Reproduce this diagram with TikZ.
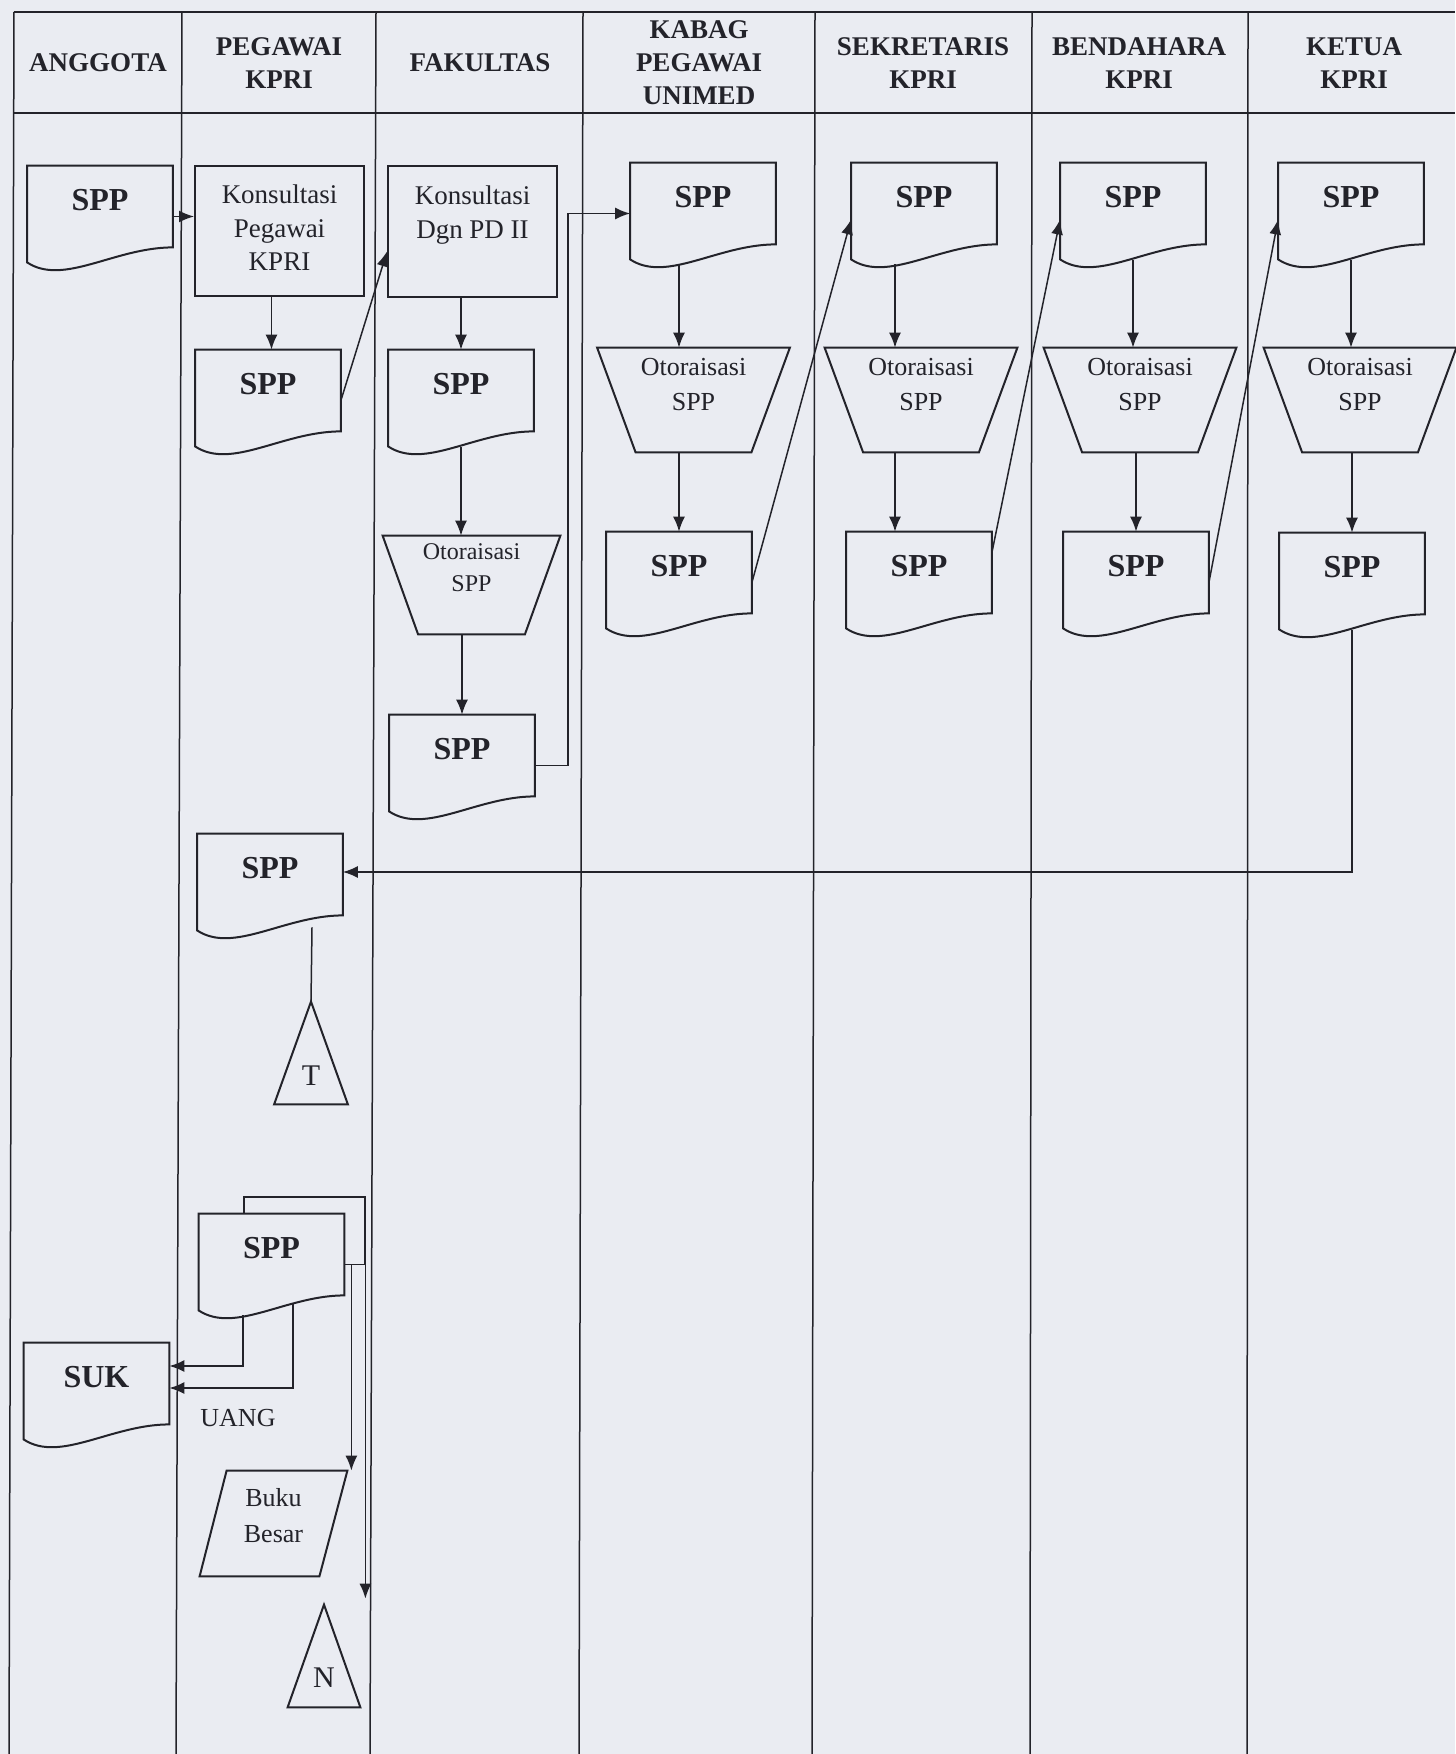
\documentclass[tikz,border=0pt]{standalone}
\usepackage{fontspec}
\setmainfont{Liberation Serif}
\usetikzlibrary{calc,arrows.meta}
\definecolor{paper}{RGB}{234,236,242}
\definecolor{ink}{RGB}{35,35,42}

\newcommand\ml[1]{\begin{tabular}[t]{@{}c@{}}#1\end{tabular}}
\newcommand\DrawDoc[1]{\draw[shp] (#1.north west) -- (#1.north east) -- ($(#1.south east)+(0,-20)$) .. controls ($(#1.south west)!0.6!(#1.south east)+(0,-20)$) and ($(#1.south west)!0.25!(#1.south east)+(0,19)$) .. ($(#1.south west)+(0,-5)$) -- cycle;}
\newcommand\DrawTrap[2]{\draw[shp] (#1.north west) -- (#1.north east) -- ($(#1.south east)+(-#2,0)$) -- ($(#1.south west)+(#2,0)$) -- cycle;}
\newcommand\DrawTri[1]{\draw[shp] (#1.south west) -- (#1.north) -- (#1.south east) -- cycle;}

\begin{document}
\begin{tikzpicture}[x=0.5pt,y=-0.5pt,
  lane/.style={draw=ink, line width=0.75pt},
  shp/.style={draw=ink, line width=1pt},
  ln/.style={draw=ink, line width=0.75pt},
  arr/.style={draw=ink, line width=0.75pt, -{Latex[length=7.5pt,width=6pt]}},
  hdr/.style={font=\bfseries\fontsize{13.5}{16.5}\selectfont, align=center, text=ink},
  docbox/.style={minimum width=72.5pt, minimum height=50.5pt, inner sep=0pt, text height=0pt, text depth=6pt, font=\bfseries\fontsize{16}{19}\selectfont, text=ink},
  procbox/.style={draw=ink, line width=1pt, minimum width=84.5pt, inner sep=0pt, text height=0pt, font=\fontsize{13.5}{16.75}\selectfont, text=ink},
  trapbox/.style={minimum width=96pt, minimum height=52pt, inner sep=0pt, text height=0pt, text depth=24pt, font=\fontsize{13}{17.25}\selectfont, text=ink},
  tribox/.style={minimum height=51pt, inner sep=0pt, text depth=0pt, font=\fontsize{15}{18}\selectfont, text=ink},
  plain/.style={font=\fontsize{13}{16}\selectfont, text=ink}
]
\path[use as bounding box, fill=paper] (0,0) rectangle (1455,1754);

% frame and swimlanes
\draw[lane] (14,12) -- (1455,12);
\draw[lane] (14,113) -- (1455,113);
\draw[lane] (14,12) -- (9,1754);
\draw[lane] (182,12) -- (176,1754);
\draw[lane] (376,12) -- (370,1754);
\draw[lane] (583,12) -- (579,1754);
\draw[lane] (815,12) -- (812,1754);
\draw[lane] (1032,12) -- (1030,1754);
\draw[lane] (1248,12) -- (1247,1754);

% headers
\node[hdr] (h1) at (98,63) {ANGGOTA};
\node[hdr] (h2) at (279,63) {PEGAWAI\\KPRI};
\node[hdr] (h3) at (480,63) {FAKULTAS};
\node[hdr] (h4) at (699,63) {KABAG\\PEGAWAI\\UNIMED};
\node[hdr] (h5) at (923,63) {SEKRETARIS\\KPRI};
\node[hdr] (h6) at (1139,63) {BENDAHARA\\KPRI};
\node[hdr] (h7) at (1354,63) {KETUA\\KPRI};

% ANGGOTA / PEGAWAI / FAKULTAS
\node[docbox] (a1) at (100,216.5) {SPP}; \DrawDoc{a1}
\node[procbox, minimum height=65pt, text depth=27pt] (k1) at (279.5,231) {\ml{Konsultasi\\Pegawai\\KPRI}};
\node[docbox] (p1) at (268,400.5) {SPP}; \DrawDoc{p1}
\node[procbox, minimum height=65.5pt, text depth=26.5pt] (k2) at (472.5,231.5) {\ml{Konsultasi\\Dgn PD II}};
\node[docbox] (f1) at (461,400.5) {SPP}; \DrawDoc{f1}
\node[trapbox, minimum width=88.5pt, minimum height=49pt, text depth=26pt, font=\fontsize{12}{16}\selectfont] (f2) at (471.5,585) {\ml{Otoraisasi\\SPP}}; \DrawTrap{f2}{35.5}
\node[docbox] (f3) at (462,765.5) {SPP}; \DrawDoc{f3}

% KABAG
\node[docbox] (kb1) at (703,213.5) {SPP}; \DrawDoc{kb1}
\node[trapbox] (kb2) at (693.5,400) {\ml{Otoraisasi\\SPP}}; \DrawTrap{kb2}{38.5}
\node[docbox] (kb3) at (679,582.5) {SPP}; \DrawDoc{kb3}

% SEKRETARIS
\node[docbox] (sk1) at (924,213.5) {SPP}; \DrawDoc{sk1}
\node[trapbox] (sk2) at (921,400) {\ml{Otoraisasi\\SPP}}; \DrawTrap{sk2}{38.5}
\node[docbox] (sk3) at (919,582.5) {SPP}; \DrawDoc{sk3}

% BENDAHARA
\node[docbox] (be1) at (1133,213.5) {SPP}; \DrawDoc{be1}
\node[trapbox] (be2) at (1140,400) {\ml{Otoraisasi\\SPP}}; \DrawTrap{be2}{38.5}
\node[docbox] (be3) at (1136,582.5) {SPP}; \DrawDoc{be3}

% KETUA
\node[docbox] (ke1) at (1351,213.5) {SPP}; \DrawDoc{ke1}
\node[trapbox] (ke2) at (1360,400) {\ml{Otoraisasi\\SPP}}; \DrawTrap{ke2}{38.5}
\node[docbox] (ke3) at (1352,583.5) {SPP}; \DrawDoc{ke3}

% return part
\node[docbox] (p2) at (270,884.5) {SPP}; \DrawDoc{p2}
\node[tribox, minimum width=36.5pt, text height=32pt] (T) at (311,1053) {T}; \DrawTri{T}

% bottom part
\node[docbox] (fr) at (271.5,1264.5) {SPP}; \DrawDoc{fr}
\coordinate (jn) at ($(fr.east)+(21,0)$);
\coordinate (jb) at ($(fr.east)+(7,0)$);
\draw[shp] ($(fr.north west)+(45,0)$) -- ++(0,-17) -| (jn);
\node[docbox] (suk) at (96.5,1393.5) {SUK}; \DrawDoc{suk}
\node[plain] (uang) at (238,1418) {UANG};
\node[minimum width=73.5pt, minimum height=52.5pt, inner sep=0pt, text height=0pt, text depth=17.5pt, font=\fontsize{13}{18}\selectfont, text=ink] (bb) at (273.5,1523.5) {\ml{Buku\\Besar}};
\draw[shp] (bb.south west) -- ($(bb.north west)+(27,0)$) -- (bb.north east) -- ($(bb.south east)+(-28,0)$) -- cycle;
\node[tribox, minimum width=36pt, text height=31pt] (N) at (324,1656) {N}; \DrawTri{N}

% connectors
\draw[arr] (a1.east) -- (a1.east -| k1.west);
\draw[arr] ([xshift=-4pt]k1.south) -- ([xshift=-4pt]k1.south |- p1.north);
\draw[arr] (p1.east) -- ([yshift=-10pt]k2.west);
\draw[arr] (f1.north |- k2.south) -- (f1.north);
\draw[arr] ([yshift=2pt]f1.south) -- (f1.south |- f2.north);
\draw[arr] (f3.north |- f2.south) -- (f3.north);
\draw[arr] (f3.east) -- ++(16.5pt,0) |- (kb1.west);

\draw[arr] ([xshift=-12pt]kb1.south) -- ([xshift=-12pt]kb1.south |- kb2.north);
\draw[arr] (kb3.north |- kb2.south) -- (kb3.north);
\draw[arr] (kb3.east) -- ([yshift=-3pt]sk1.west);

\draw[arr] ([xshift=-14.5pt]sk1.south) -- ([xshift=-14.5pt]sk1.south |- sk2.north);
\draw[arr] ([xshift=-12pt]sk3.north |- sk2.south) -- ([xshift=-12pt]sk3.north);
\draw[arr] ([yshift=15pt]sk3.east) -- ([yshift=-3pt]be1.west);

\draw[arr] ([yshift=2pt]be1.south) -- (be1.south |- be2.north);
\draw[arr] (be3.north |- be2.south) -- (be3.north);
\draw[arr] (be3.east) -- ([yshift=-3pt]ke1.west);

\draw[arr] ([yshift=2pt]ke1.south) -- (ke1.south |- ke2.north);
\draw[arr] (ke3.north |- ke2.south) -- (ke3.north);
\draw[arr] ([yshift=2pt]ke3.south) |- ([yshift=6.25pt]p2.east);

\draw[ln] ([xshift=21pt,yshift=4pt]p2.south) -- (T.north);

\draw[ln] (fr.east) -- (jn);
\draw[arr] (jb) -- (jb |- bb.north);
\draw[arr, shorten >=3pt] (jn) -- (jn |- N.north);
\draw[arr] ([xshift=-14.25pt]fr.south) |- ([yshift=13.75pt]suk.east);
\draw[arr] ([xshift=10.75pt,yshift=6pt]fr.south) |- ([yshift=2.75pt]suk.east);
\end{tikzpicture}
\end{document}
